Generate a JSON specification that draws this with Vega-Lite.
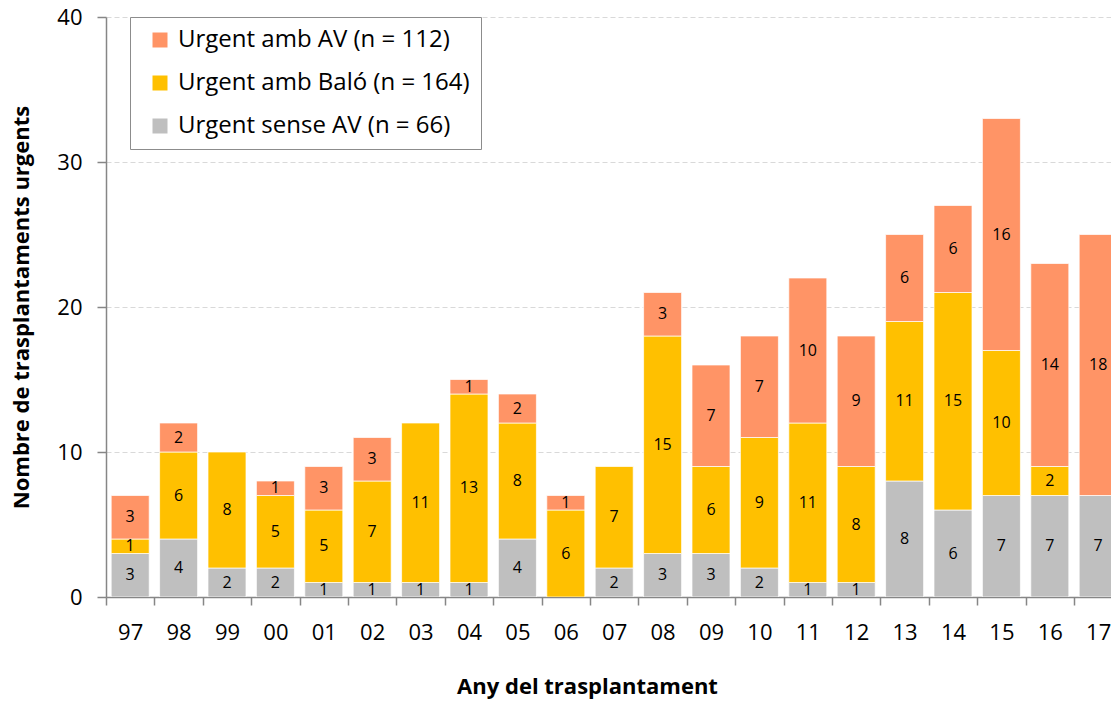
{
  "$schema": "https://vega.github.io/schema/vega-lite/v6.json",
  "autosize": {"type": "none"},
  "width": 1005,
  "height": 580,
  "padding": {"left": 106, "top": 17, "right": 0, "bottom": 107},
  "background": "white",
  "config": {
    "font": "Open Sans",
    "view": {"stroke": null}
  },
  "data": {
    "values": [
      {"year": "97", "serie": "Urgent sense AV (n = 66)", "ord": 1, "value": 3},
      {"year": "97", "serie": "Urgent amb Baló (n = 164)", "ord": 2, "value": 1},
      {"year": "97", "serie": "Urgent amb AV (n = 112)", "ord": 3, "value": 3},
      {"year": "98", "serie": "Urgent sense AV (n = 66)", "ord": 1, "value": 4},
      {"year": "98", "serie": "Urgent amb Baló (n = 164)", "ord": 2, "value": 6},
      {"year": "98", "serie": "Urgent amb AV (n = 112)", "ord": 3, "value": 2},
      {"year": "99", "serie": "Urgent sense AV (n = 66)", "ord": 1, "value": 2},
      {"year": "99", "serie": "Urgent amb Baló (n = 164)", "ord": 2, "value": 8},
      {"year": "99", "serie": "Urgent amb AV (n = 112)", "ord": 3, "value": 0},
      {"year": "00", "serie": "Urgent sense AV (n = 66)", "ord": 1, "value": 2},
      {"year": "00", "serie": "Urgent amb Baló (n = 164)", "ord": 2, "value": 5},
      {"year": "00", "serie": "Urgent amb AV (n = 112)", "ord": 3, "value": 1},
      {"year": "01", "serie": "Urgent sense AV (n = 66)", "ord": 1, "value": 1},
      {"year": "01", "serie": "Urgent amb Baló (n = 164)", "ord": 2, "value": 5},
      {"year": "01", "serie": "Urgent amb AV (n = 112)", "ord": 3, "value": 3},
      {"year": "02", "serie": "Urgent sense AV (n = 66)", "ord": 1, "value": 1},
      {"year": "02", "serie": "Urgent amb Baló (n = 164)", "ord": 2, "value": 7},
      {"year": "02", "serie": "Urgent amb AV (n = 112)", "ord": 3, "value": 3},
      {"year": "03", "serie": "Urgent sense AV (n = 66)", "ord": 1, "value": 1},
      {"year": "03", "serie": "Urgent amb Baló (n = 164)", "ord": 2, "value": 11},
      {"year": "03", "serie": "Urgent amb AV (n = 112)", "ord": 3, "value": 0},
      {"year": "04", "serie": "Urgent sense AV (n = 66)", "ord": 1, "value": 1},
      {"year": "04", "serie": "Urgent amb Baló (n = 164)", "ord": 2, "value": 13},
      {"year": "04", "serie": "Urgent amb AV (n = 112)", "ord": 3, "value": 1},
      {"year": "05", "serie": "Urgent sense AV (n = 66)", "ord": 1, "value": 4},
      {"year": "05", "serie": "Urgent amb Baló (n = 164)", "ord": 2, "value": 8},
      {"year": "05", "serie": "Urgent amb AV (n = 112)", "ord": 3, "value": 2},
      {"year": "06", "serie": "Urgent sense AV (n = 66)", "ord": 1, "value": 0},
      {"year": "06", "serie": "Urgent amb Baló (n = 164)", "ord": 2, "value": 6},
      {"year": "06", "serie": "Urgent amb AV (n = 112)", "ord": 3, "value": 1},
      {"year": "07", "serie": "Urgent sense AV (n = 66)", "ord": 1, "value": 2},
      {"year": "07", "serie": "Urgent amb Baló (n = 164)", "ord": 2, "value": 7},
      {"year": "07", "serie": "Urgent amb AV (n = 112)", "ord": 3, "value": 0},
      {"year": "08", "serie": "Urgent sense AV (n = 66)", "ord": 1, "value": 3},
      {"year": "08", "serie": "Urgent amb Baló (n = 164)", "ord": 2, "value": 15},
      {"year": "08", "serie": "Urgent amb AV (n = 112)", "ord": 3, "value": 3},
      {"year": "09", "serie": "Urgent sense AV (n = 66)", "ord": 1, "value": 3},
      {"year": "09", "serie": "Urgent amb Baló (n = 164)", "ord": 2, "value": 6},
      {"year": "09", "serie": "Urgent amb AV (n = 112)", "ord": 3, "value": 7},
      {"year": "10", "serie": "Urgent sense AV (n = 66)", "ord": 1, "value": 2},
      {"year": "10", "serie": "Urgent amb Baló (n = 164)", "ord": 2, "value": 9},
      {"year": "10", "serie": "Urgent amb AV (n = 112)", "ord": 3, "value": 7},
      {"year": "11", "serie": "Urgent sense AV (n = 66)", "ord": 1, "value": 1},
      {"year": "11", "serie": "Urgent amb Baló (n = 164)", "ord": 2, "value": 11},
      {"year": "11", "serie": "Urgent amb AV (n = 112)", "ord": 3, "value": 10},
      {"year": "12", "serie": "Urgent sense AV (n = 66)", "ord": 1, "value": 1},
      {"year": "12", "serie": "Urgent amb Baló (n = 164)", "ord": 2, "value": 8},
      {"year": "12", "serie": "Urgent amb AV (n = 112)", "ord": 3, "value": 9},
      {"year": "13", "serie": "Urgent sense AV (n = 66)", "ord": 1, "value": 8},
      {"year": "13", "serie": "Urgent amb Baló (n = 164)", "ord": 2, "value": 11},
      {"year": "13", "serie": "Urgent amb AV (n = 112)", "ord": 3, "value": 6},
      {"year": "14", "serie": "Urgent sense AV (n = 66)", "ord": 1, "value": 6},
      {"year": "14", "serie": "Urgent amb Baló (n = 164)", "ord": 2, "value": 15},
      {"year": "14", "serie": "Urgent amb AV (n = 112)", "ord": 3, "value": 6},
      {"year": "15", "serie": "Urgent sense AV (n = 66)", "ord": 1, "value": 7},
      {"year": "15", "serie": "Urgent amb Baló (n = 164)", "ord": 2, "value": 10},
      {"year": "15", "serie": "Urgent amb AV (n = 112)", "ord": 3, "value": 16},
      {"year": "16", "serie": "Urgent sense AV (n = 66)", "ord": 1, "value": 7},
      {"year": "16", "serie": "Urgent amb Baló (n = 164)", "ord": 2, "value": 2},
      {"year": "16", "serie": "Urgent amb AV (n = 112)", "ord": 3, "value": 14},
      {"year": "17", "serie": "Urgent sense AV (n = 66)", "ord": 1, "value": 7},
      {"year": "17", "serie": "Urgent amb Baló (n = 164)", "ord": 2, "value": 0},
      {"year": "17", "serie": "Urgent amb AV (n = 112)", "ord": 3, "value": 18}
    ]
  },
  "transform": [
    {"filter": "datum.value > 0"},
    {"stack": "value", "groupby": ["year"], "sort": [{"field": "ord", "order": "ascending"}], "as": ["v0", "v1"]},
    {"calculate": "(datum.v0 + datum.v1) / 2", "as": "mid"}
  ],
  "encoding": {
    "x": {
      "field": "year",
      "type": "nominal",
      "sort": null,
      "scale": {"range": [0, 1016.4], "paddingInner": 0, "paddingOuter": 0},
      "axis": {
        "title": "Any del trasplantament",
        "titleFontSize": 22,
        "titleFontWeight": "bold",
        "titleColor": "black",
        "titleX": 481,
        "titleAlign": "center",
        "titleAnchor": "start",
        "titlePadding": 33,
        "labelAngle": 0,
        "labelFontSize": 22,
        "labelColor": "black",
        "labelPadding": 17,
        "tickBand": "extent",
        "tickSize": 8,
        "tickColor": "#868686",
        "tickWidth": 1.5,
        "domainColor": "#868686",
        "domainWidth": 1.5,
        "grid": false
      }
    }
  },
  "layer": [
    {
      "mark": {"type": "bar", "width": {"band": 0.785}, "stroke": "white", "strokeOpacity": 0.7, "strokeWidth": 1, "clip": true},
      "encoding": {
        "y": {
          "field": "v0",
          "type": "quantitative",
          "scale": {"domain": [0, 40], "nice": false},
          "axis": {
            "title": "Nombre de trasplantaments urgents",
            "titleFontSize": 22,
            "titleFontWeight": "bold",
            "titleColor": "black",
            "titlePadding": 23,
            "values": [0, 10, 20, 30, 40],
            "labelFontSize": 22,
            "labelColor": "black",
            "labelPadding": 15,
            "tickSize": 9,
            "tickColor": "#868686",
            "tickWidth": 1.5,
            "domainColor": "#868686",
            "domainWidth": 1.5,
            "gridColor": "#D9D9D9",
            "gridDash": [5, 3],
            "gridWidth": 1.2
          }
        },
        "y2": {"field": "v1"},
        "color": {
          "field": "serie",
          "type": "nominal",
          "scale": {
            "domain": ["Urgent amb AV (n = 112)", "Urgent amb Baló (n = 164)", "Urgent sense AV (n = 66)"],
            "range": ["#FF9466", "#FFC000", "#BFBFBF"]
          },
          "legend": {
            "title": null,
            "orient": "none",
            "legendX": 24,
            "legendY": 0,
            "symbolType": "square",
            "symbolSize": 225,
            "symbolStrokeWidth": 0,
            "symbolOffset": 7,
            "labelFontSize": 24,
            "labelColor": "black",
            "labelOffset": 6,
            "labelLimit": 500,
            "rowPadding": 19,
            "padding": 11,
            "strokeColor": "#8C8C8C",
            "fillColor": "white"
          }
        }
      }
    },
    {
      "mark": {"type": "text", "fontSize": 16, "color": "black", "baseline": "middle", "clip": true},
      "encoding": {
        "y": {"field": "mid", "type": "quantitative"},
        "text": {"field": "value", "type": "quantitative"}
      }
    }
  ]
}
